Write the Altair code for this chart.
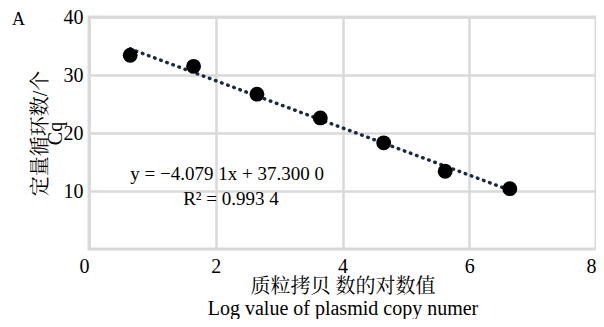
import altair as alt
import pandas as pd

# data
log_copies = [0.65, 1.65, 2.65, 3.65, 4.65, 5.62, 6.64]
cq_values = [33.4, 31.5, 26.7, 22.6, 18.3, 13.4, 10.4]
x_ticks = [0, 2, 4, 6, 8]
y_ticks = [10, 20, 30, 40]
eq_text = ["y = −4.079 1x + 37.300 0", "R² = 0.993 4"]
eq_x = [2.18, 2.24]
eq_y = [12.9, 8.6]

df = pd.DataFrame({"x": log_copies, "y": cq_values})
ann = pd.DataFrame({"t": eq_text, "x": eq_x, "y": eq_y})

FONT = "Liberation Serif, Noto Serif CJK SC, Noto Sans CJK SC"

xs = alt.Scale(domain=[0, 8], nice=False, zero=False)
ys = alt.Scale(domain=[0, 40], nice=False)

xaxis = alt.Axis(values=x_ticks, format="d", grid=True, gridColor="#d9d9d9", gridWidth=2.5,
                 ticks=False, domain=False, labelFont=FONT, labelFontSize=20,
                 labelColor="black", labelPadding=7,
                 labelAlign=alt.expr("datum.value == 0 ? 'right' : datum.value == 8 ? 'right' : 'center'"),
                 title=["质粒拷贝 数的对数值", "Log value of plasmid copy numer"],
                 titleFont=FONT, titleFontSize=20, titleFontWeight="normal",
                 titleColor="black", titlePadding=0, titleLineHeight=22)
yaxis = alt.Axis(values=y_ticks, format="d", grid=True, gridColor="#d9d9d9", gridWidth=2.5,
                 ticks=False, domain=False, labelFont=FONT, labelFontSize=20,
                 labelColor="black", labelPadding=6,
                 title=["定量循环数/个", "Cq"], titleFont=FONT, titleFontSize=20,
                 titleFontWeight="normal", titleColor="black",
                 titleX=-49, titleBaseline="middle", titleLineHeight=15)

base = alt.Chart(df)

trend = base.transform_regression("x", "y").mark_line(
    color="#1c2848", strokeWidth=3.5, strokeDash=[0.5, 6], strokeCap="round"
).encode(x=alt.X("x:Q", scale=xs, axis=xaxis), y=alt.Y("y:Q", scale=ys, axis=yaxis))

pts = base.mark_circle(color="black", opacity=1, size=220).encode(
    x=alt.X("x:Q", scale=xs), y=alt.Y("y:Q", scale=ys))

txt = alt.Chart(ann).mark_text(font=FONT, fontSize=19, color="black",
                               align="center", baseline="middle").encode(
    x=alt.X("x:Q", scale=xs), y=alt.Y("y:Q", scale=ys), text="t:N")

chart = alt.layer(trend, pts, txt).properties(
    width=507, height=232,
    autosize=alt.AutoSizeParams(type="none"),
    padding={"left": 81, "top": 9, "right": 0, "bottom": 70},
    title=alt.TitleParams("A", anchor="start", font=FONT, fontSize=18,
                          fontWeight="normal", color="black", dx=-77, dy=6,
                          offset=-16, frame="group")
).configure_view(stroke="#d9d9d9", strokeWidth=3)

chart.save("out.html", embed_options={"renderer": "svg", "actions": False})
